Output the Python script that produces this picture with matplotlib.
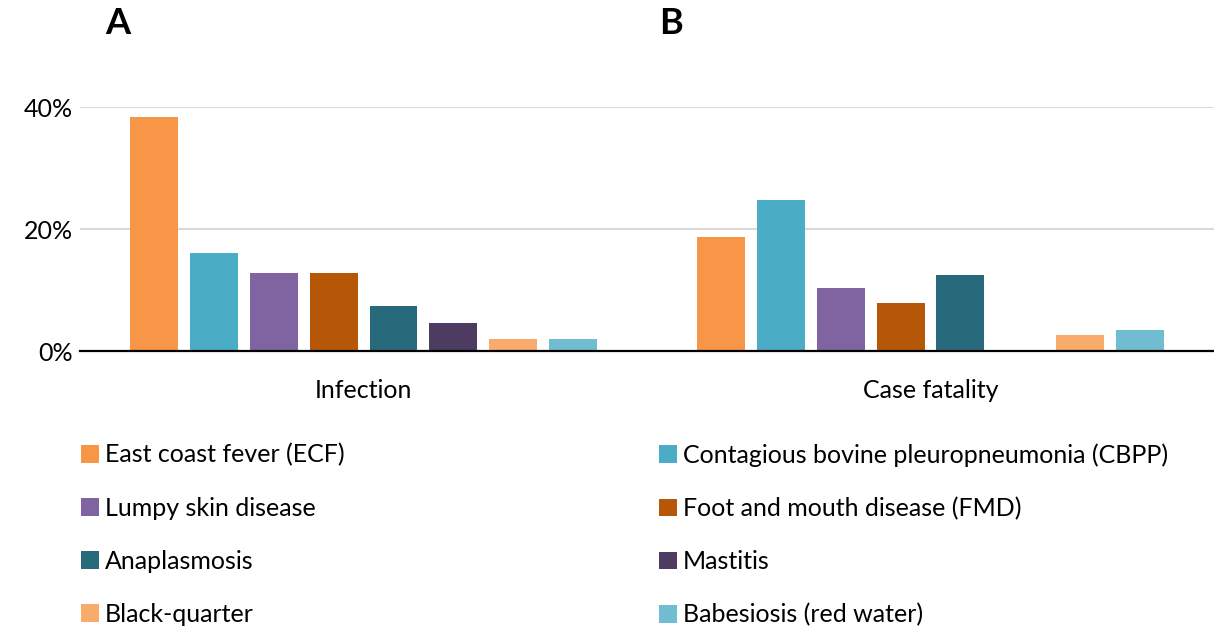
import numpy as np
import matplotlib.pyplot as plt
from matplotlib.patches import Patch

plt.rcParams['font.family'] = ['Lato', 'DejaVu Sans']

groups = ['Infection', 'Case fatality']
diseases = ['East coast fever (ECF)', 'Contagious bovine pleuropneumonia (CBPP)',
            'Lumpy skin disease', 'Foot and mouth disease (FMD)',
            'Anaplasmosis', 'Mastitis', 'Black-quarter', 'Babesiosis (red water)']
infection = [38.4, 16.0, 12.8, 12.8, 7.35, 4.6, 2.0, 2.0]
fatality = [18.7, 24.8, 10.4, 7.9, 12.5, 0.0, 2.7, 3.5]
colors = ['#F79646', '#4BACC6', '#8064A2', '#B65708',
          '#276A7C', '#4D3B62', '#F9AB6B', '#70BCD1']

fig = plt.figure(figsize=(12.14, 6.28), dpi=100)
ax = fig.add_axes([0.066, 0.441, 0.934, 0.3885])

x = np.arange(len(groups))
step = 0.1055
width = 0.0845
for i, name in enumerate(diseases):
    vals = [infection[i], fatality[i]]
    ax.bar(x + (i - 3.5) * step, vals, width, color=colors[i], label=name, zorder=3)

ax.set_xlim(-0.5, 1.5)
ax.set_ylim(0, 40)
ax.set_yticks([0, 20, 40])
ax.set_yticklabels(['0%', '20%', '40%'])
ax.set_xticks(x)
ax.set_xticklabels(groups)
ax.tick_params(axis='both', length=0, labelsize=18, colors='#000000')
ax.tick_params(axis='x', pad=20)
ax.tick_params(axis='y', pad=5)
ax.grid(axis='y', color='#D9D9D9', linewidth=1.5, zorder=0)
for s in ['top', 'right', 'left']:
    ax.spines[s].set_visible(False)
ax.spines['bottom'].set_linewidth(1.6)
ax.spines['bottom'].set_zorder(4)

fig.text(0.087, 0.962, 'A', fontsize=26, fontweight='bold', va='center', ha='left')
fig.text(0.543, 0.962, 'B', fontsize=26, fontweight='bold', va='center', ha='left')

# legend: two columns, row-wise order
handles = [Patch(facecolor=c) for c in colors]
left_idx = [0, 2, 4, 6]
right_idx = [1, 3, 5, 7]
kw = dict(loc='upper left', frameon=False, fontsize=18, handlelength=0.7,
          handleheight=0.7, handletextpad=0.25, labelspacing=1.2,
          borderaxespad=0, borderpad=0)
fig.legend([handles[i] for i in left_idx], [diseases[i] for i in left_idx],
           bbox_to_anchor=(0.067, 0.294), **kw)
fig.legend([handles[i] for i in right_idx], [diseases[i] for i in right_idx],
           bbox_to_anchor=(0.543, 0.294), **kw)

fig.savefig('out.png', dpi=100)
